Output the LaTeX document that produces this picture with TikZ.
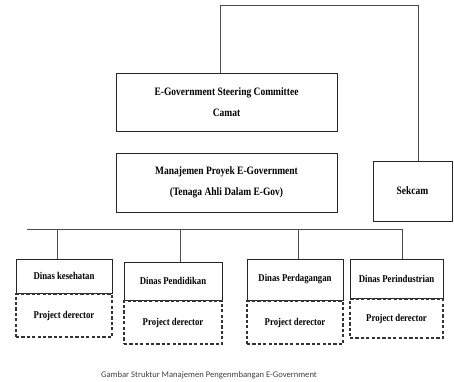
\documentclass[tikz,border=0pt]{standalone}
\usepackage{fontspec}
\setmainfont{Liberation Serif}[FakeStretch=0.84]
\newfontfamily\capfont{Carlito}
\usepackage{tikz}
\usetikzlibrary{positioning,calc}

\begin{document}
\begin{tikzpicture}[x=1pt,y=-1pt,
		unit/.style={draw=black!85,line width=0.8pt,inner sep=0pt,align=center,font=\fontsize{11.3}{21}\selectfont\bfseries},
		dinas/.style={unit,font=\fontsize{10.4}{12}\selectfont\bfseries},
		director/.style={dinas,draw=black!80,line width=1.3pt,dash pattern=on 3.2pt off 2.2pt},
		link/.style={draw=black!70,line width=0.7pt}]
			\useasboundingbox (0,0) rectangle (454,381);
			\node[unit,minimum width=221pt,minimum height=58pt] (steer) at (226.5,102) {E-Government Steering Committee\\Camat};
			\node[unit,minimum width=221pt,minimum height=59pt] (proyek) at (226.5,182.5) {Manajemen Proyek E-Government\\(Tenaga Ahli Dalam E-Gov)};
			\node[unit,minimum width=79pt,minimum height=60pt] (sekcam) at (412.5,191) {Sekcam};
			\node[dinas,minimum width=96pt,minimum height=34pt] (kes) at (64,276) {Dinas kesehatan};
			\node[dinas,minimum width=98pt,minimum height=38pt] (pend) at (173,281) {Dinas Pendidikan};
			\node[dinas,minimum width=96pt,minimum height=41pt] (dag) at (295,279.5) {Dinas Perdagangan};
			\node[dinas,minimum width=93pt,minimum height=39pt] (ind) at (396.5,278.5) {Dinas Perindustrian};
			\node[director,fill=white,minimum width=96pt,minimum height=43pt,below=0pt of kes] (kesdir) {Project derector};
			\node[director,fill=white,minimum width=98pt,minimum height=43pt,below=0pt of pend] (penddir) {Project derector};
			\node[director,fill=white,minimum width=96pt,minimum height=43pt,below=0pt of dag] (dagdir) {Project derector};
			\node[director,fill=white,minimum width=93pt,minimum height=39pt,below=0pt of ind] (inddir) {Project derector};
			\coordinate (topL) at (220,5);
			\coordinate (topR) at (418,5);
			\coordinate (busL) at (27,229);
			\coordinate (busR) at (402,229);
			\coordinate (b1) at (57,229);
			\coordinate (b2) at (180,229);
			\coordinate (b3) at (298,229);
			\draw[link] (topL |- steer.north) -- (topL) -- (topR) -- (topR |- sekcam.north);
			\draw[link] (busL) -- (busR);
			\draw[link] (b1) -- (b1 |- kes.north);
			\draw[link] (b2) -- (b2 |- pend.north);
			\draw[link] (b3) -- (b3 |- dag.north);
			\draw[link] (busR) -- (busR |- ind.north);
			\node[text=black!75,font=\capfont\fontsize{8.6}{10}\selectfont] (caption) at (209,375) {Gambar Struktur Manajemen Pengenmbangan E-Government};
		\end{tikzpicture}
\end{document}
